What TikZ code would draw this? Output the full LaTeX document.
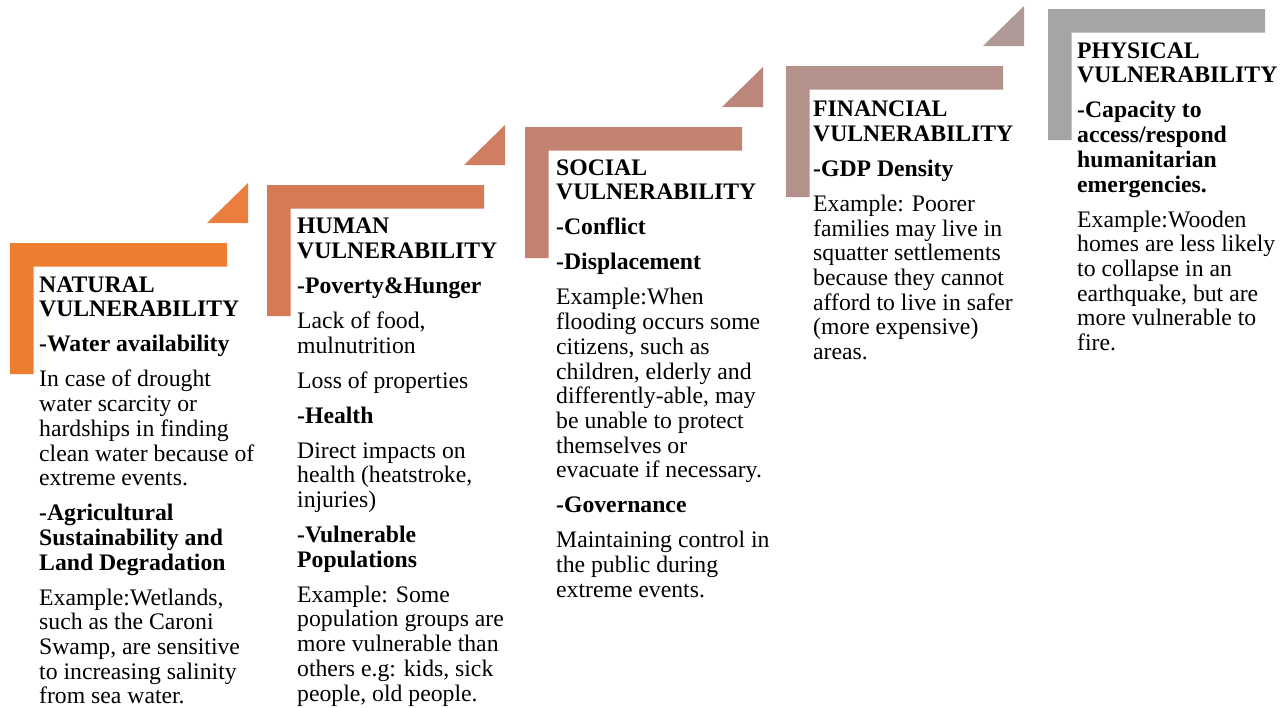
\documentclass[tikz,border=0pt]{standalone}
\usepackage{fontspec}
\setmainfont{Liberation Serif}
\definecolor{cA}{RGB}{237,125,49}
\definecolor{tA}{RGB}{234,126,62}
\definecolor{cB}{RGB}{214,122,85}
\definecolor{tB}{RGB}{208,126,98}
\definecolor{cC}{RGB}{196,130,113}
\definecolor{tC}{RGB}{187,134,124}
\definecolor{cD}{RGB}{181,145,139}
\definecolor{tD}{RGB}{176,154,152}
\definecolor{cE}{RGB}{165,165,165}
\tikzset{
  txt/.style={anchor=north west, inner sep=0pt, align=left,
    font=\fontsize{23.7}{24.7}\selectfont},
}
\newcommand{\pg}{\\[10.3pt]}
\newcommand{\stepshape}[4]{%
  \begin{scope}[shift={(#1,#2)}]
    \fill[#3] (0,0) -- (217,0) -- (217,23.5) -- (23.5,23.5) -- (23.5,131) -- (0,131) -- cycle;
    \ifx&#4&\else
    \fill[#4] (197,-20) -- (238,-20) -- (238,-60) -- cycle;
    \fi
  \end{scope}}
\begin{document}
\begin{tikzpicture}[x=1pt,y=-1pt]
\useasboundingbox (0,0) rectangle (1281,707);
\stepshape{10}{243}{cA}{tA}
\stepshape{267}{185}{cB}{tB}
\stepshape{525}{127}{cC}{tC}
\stepshape{786}{66}{cD}{tD}
\stepshape{1048}{9}{cE}{}

\node[txt] (nat) at (39,276) {\rule{0pt}{16pt}\textbf{NATURAL}\\
\textbf{VULNERABILITY}\pg
\textbf{-Water availability}\pg
In case of drought\\
water scarcity or\\
hardships in finding\\
clean water because of\\
extreme events.\pg
\textbf{-Agricultural}\\
\textbf{Sustainability and}\\
\textbf{Land Degradation}\pg
Example:Wetlands,\\
such as the Caroni\\
Swamp, are sensitive\\
to increasing salinity\\
from sea water.};

\node[txt] (hum) at (297,217.5) {\rule{0pt}{16pt}\textbf{HUMAN}\\
\textbf{VULNERABILITY}\pg
\textbf{-Poverty\&Hunger}\pg
Lack of food,\\
mulnutrition\pg
Loss of properties\pg
\textbf{-Health}\pg
Direct impacts on\\
health (heatstroke,\\
injuries)\pg
\textbf{-Vulnerable}\\
\textbf{Populations}\pg
Example: Some\\
population groups are\\
more vulnerable than\\
others e.g: kids, sick\\
people, old people.};

\node[txt] (soc) at (556,159) {\rule{0pt}{16pt}\textbf{SOCIAL}\\
\textbf{VULNERABILITY}\pg
\textbf{-Conflict}\pg
\textbf{-Displacement}\pg
Example:When\\
flooding occurs some\\
citizens, such as\\
children, elderly and\\
differently-able, may\\
be unable to protect\\
themselves or\\
evacuate if necessary.\pg
\textbf{-Governance}\pg
Maintaining control in\\
the public during\\
extreme events.};

\node[txt] (fin) at (813,100.5) {\rule{0pt}{16pt}\textbf{FINANCIAL}\\
\textbf{VULNERABILITY}\pg
\textbf{-GDP Density}\pg
Example: Poorer\\
families may live in\\
squatter settlements\\
because they cannot\\
afford to live in safer\\
(more expensive)\\
areas.};

\node[txt] (phy) at (1077,42) {\rule{0pt}{16pt}\textbf{PHYSICAL}\\
\textbf{VULNERABILITY}\pg
\textbf{-Capacity to}\\
\textbf{access/respond}\\
\textbf{humanitarian}\\
\textbf{emergencies.}\pg
Example:Wooden\\
homes are less likely\\
to collapse in an\\
earthquake, but are\\
more vulnerable to\\
fire.};
\end{tikzpicture}
\end{document}
